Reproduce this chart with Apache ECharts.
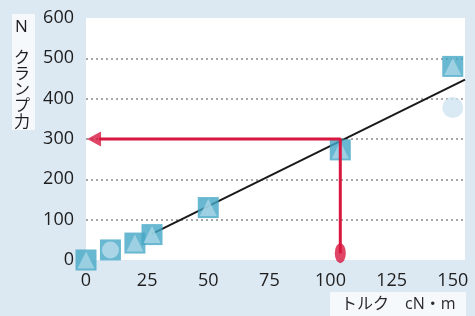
<!DOCTYPE html>
<html>
<head>
<meta charset="utf-8">
<script src="https://cdn.jsdelivr.net/npm/echarts@6/dist/echarts.min.js"></script>
<style>
  html, body { margin: 0; padding: 0; background: #dce8f2; }
  #main { width: 475px; height: 316px; }
</style>
</head>
<body>
<div id="main"></div>
<script>
// measured points (torque cN·m, clamp force N)
var torque = [0, 10, 20, 27, 50, 104, 150];
var force = [0, 25, 42, 63, 130, 273, 480];
var innerShape = ["triangle", "circle", "triangle", "triangle", "triangle", "triangle", "triangle"];
var extraTorque = [150];
var extraForce = [378];
// fitted line
var fitX = [27, 155];
var fitY = [65, 447];
// read-off arrow
var readX = 104;
var readY = 300;
var arrowTipX = 3.3;
var dotY = 17;
var xTicks = [0, 25, 50, 75, 100, 125, 150];
var yTicks = [0, 100, 200, 300, 400, 500, 600];

var chartDom = document.getElementById("main");
var myChart = echarts.init(chartDom);
var option;

var font = "'Open Sans', 'Noto Sans CJK JP', sans-serif";
var red = "#d8173f";

var pts = torque.map(function (t, i) { return [t, force[i]]; });

option = {
  backgroundColor: "#dce8f2",
  animation: false,
  grid: {
    left: 86, right: 10, top: 18, bottom: 56,
    show: true, backgroundColor: "#ffffff", borderWidth: 0
  },
  xAxis: {
    type: "value", min: 0, max: 155, interval: 25,
    axisLine: { show: false }, axisTick: { show: false },
    splitLine: { show: false },
    axisLabel: {
      margin: 12, fontSize: 18, color: "#1e1e1e", fontFamily: font,
      showMaxLabel: false,
      formatter: function (v) { return xTicks.indexOf(v) >= 0 ? String(v) : ""; }
    }
  },
  yAxis: {
    type: "value", min: 0, max: 600, interval: 100,
    axisLine: { show: false }, axisTick: { show: false },
    axisLabel: {
      margin: 12, fontSize: 18, color: "#1e1e1e", fontFamily: font,
      formatter: function (v) { return yTicks.indexOf(v) >= 0 ? String(v) : ""; }
    },
    splitLine: {
      show: true, showMinLine: false, showMaxLine: false,
      lineStyle: { type: [2, 3], color: "#8a8a8a", width: 1.5 }
    }
  },
  graphic: [
    { type: "rect", shape: { x: 12, y: 14, width: 23, height: 116 },
      style: { fill: "rgba(255,255,255,0.75)" } },
    { type: "text", left: 15, top: 19,
      style: { text: "N", fontSize: 17, fill: "#1e1e1e", fontFamily: font } },
    { type: "text", left: 14, top: 50,
      style: { text: "ク\nラ\nン\nプ\n力", fontSize: 16, lineHeight: 16,
               fill: "#1e1e1e", fontFamily: font } },
    { type: "rect", shape: { x: 330, y: 292, width: 136, height: 24 },
      style: { fill: "rgba(255,255,255,0.75)" } },
    { type: "text", left: 341, top: 296,
      style: { text: "トルク　cN・m", fontSize: 16, fill: "#2a2a2a", fontFamily: font } }
  ],
  series: [
    {
      name: "fit", type: "line", z: 2, symbol: "none",
      data: fitX.map(function (x, i) { return [x, fitY[i]]; }),
      lineStyle: { color: "#1a1a1a", width: 2 }
    },
    {
      name: "extra", type: "scatter", z: 3, symbol: "circle", symbolSize: 21,
      data: extraTorque.map(function (x, i) { return [x, extraForce[i]]; }),
      itemStyle: { color: "#cfe5f1" }
    },
    {
      name: "box", type: "scatter", z: 3, symbol: "rect", symbolSize: 21,
      data: pts,
      itemStyle: { color: "#44a6c6" }
    },
    {
      name: "inner", type: "scatter", z: 4, symbolSize: 17,
      data: pts.map(function (p, i) {
        return { value: p, symbol: innerShape[i],
          itemStyle: { color: innerShape[i] === "circle" ? "#b9dcec" : "#a9d6e6" } };
      })
    },
    {
      name: "read", type: "line", z: 6, symbol: "none",
      data: [[readX, dotY], [readX, readY], [arrowTipX + 2, readY]],
      lineStyle: { color: red, width: 3 }
    },
    {
      name: "arrowhead", type: "scatter", z: 7, symbol: "triangle",
      symbolSize: [15, 14], symbolRotate: 90,
      data: [[arrowTipX, readY]],
      itemStyle: { color: red }
    },
    {
      name: "dot", type: "scatter", z: 7, symbol: "circle",
      symbolSize: [11, 20],
      data: [[readX, dotY]],
      itemStyle: { color: red }
    }
  ]
};

option && myChart.setOption(option);
</script>
</body>
</html>
